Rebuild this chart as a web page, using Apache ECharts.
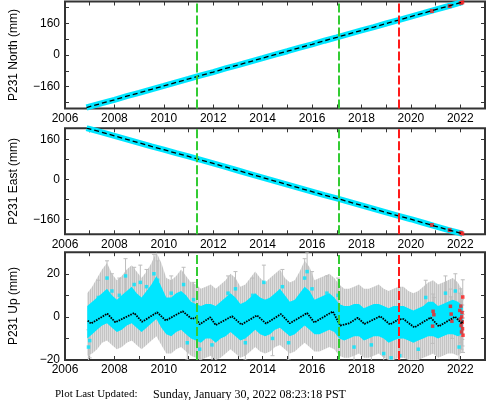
<!DOCTYPE html>
<html><head><meta charset="utf-8">
<script src="https://cdn.jsdelivr.net/npm/echarts@6/dist/echarts.min.js"></script>
<style>html,body{margin:0;padding:0;background:#fff}#c{width:488px;height:400px}</style>
</head><body><div id="c"></div>
<script>
// ---------- data ----------
const northT = [2006.87,2007.5,2008,2008.5,2009,2009.5,2010,2010.5,2011,2011.5,2012,2012.5,2013,2013.5,2014,2014.5,2015,2015.5,2016,2016.5,2017,2017.5,2018,2018.5,2019,2019.5,2020,2020.5,2021,2021.5,2022,2022.1];
const northV = [-265,-243,-226,-208,-191,-173,-156,-138,-121,-103,-86,-68,-51,-33,-16,2,19,37,54,72,89,107,124,141,159,176,194,211,229,246,264,267];
const eastT = northT;
const eastV = [205,188,174,160,146,132,119,105,92,78,64,50,36,22,8,-6,-20,-34,-48,-62,-75,-89,-103,-117,-131,-145,-158,-172,-186,-200,-213,-216];
const redNorthT = [2020.85,2021.57,2022.02,2022.08];
const redNorthV = [222,247,263,266];
const redEastT = [2020.85,2021.57,2022.02,2022.08];
const redEastV = [-181,-201,-212,-215];

const upModelT = [2006.92,2007.05,2007.71,2008.04,2008.8,2009.12,2009.73,2010.08,2010.76,2011.14,2011.3,2011.45,2011.88,2012.1,2012.76,2013.14,2013.77,2014.14,2014.74,2015.1,2015.8,2016.09,2016.84,2017.14,2017.5,2017.85,2018.12,2018.76,2019.15,2019.5,2019.7,2020.14,2020.8,2021.13,2021.79,2022.06,2022.1];
const upModelV = [-1.7,-3.1,1.5,-2.5,1.8,-2.3,2.1,-1.7,2.6,-1.0,-0.3,-3.5,-0.2,-3.8,0.3,-3.6,0.7,-3.1,1.3,-3.0,1.8,-2.6,2.5,-4.0,-3.0,-0.4,-3.3,0.3,-3.5,-1.2,-1.0,-4.9,-0.3,-4.4,0.1,-3.2,-1.5];

const upBinT = [2006.9,2007.1,2007.3,2007.5,2007.7,2007.9,2008.1,2008.3,2008.5,2008.7,2008.9,2009.1,2009.3,2009.5,2009.7,2009.9,2010.1,2010.3,2010.5,2010.7,2010.9,2011.1,2011.3,2011.5,2011.7,2011.9,2012.1,2012.3,2012.5,2012.7,2012.9,2013.1,2013.3,2013.5,2013.7,2013.9,2014.1,2014.3,2014.5,2014.7,2014.9,2015.1,2015.3,2015.5,2015.7,2015.9,2016.1,2016.3,2016.5,2016.7,2016.9,2017.1,2017.3,2017.5,2017.7,2017.9,2018.1,2018.3,2018.5,2018.7,2018.9,2019.1,2019.3,2019.5,2019.7,2019.9,2020.1,2020.3,2020.5,2020.7,2020.9,2021.1,2021.3,2021.5,2021.7,2021.9,2022.1];
const upCoreHi = [5,7,9,11,13,10,8,10,12,14,11,9,12,15,19,14,9,9,11,12,10,7,6,5,6,6,5,7,9,11,9,6,7,9,11,9,8,9,11,13,10,7,8,11,14,12,8,9,10,11,9,6,5,5,6,6,4,5,6,6,5,4,5,5,5,4,3,4,5,7,7,5,6,7,8,7,5];
const upCoreLo = [-10,-8,-6,-4,-3,-5,-7,-6,-4,-3,-5,-7,-5,-3,-1,-5,-8,-9,-7,-6,-8,-10,-11,-12,-10,-10,-12,-10,-9,-7,-9,-11,-10,-8,-6,-8,-9,-8,-6,-5,-7,-9,-8,-6,-4,-6,-8,-8,-7,-6,-7,-10,-11,-10,-9,-9,-11,-10,-9,-9,-10,-12,-11,-10,-10,-11,-12,-11,-10,-9,-9,-10,-9,-8,-8,-9,-8];
const upErrHi = [11,14,18,22,25,20,17,19,22,24,21,18,21,25,30,25,18,17,19,22,19,16,15,13,14,15,13,15,17,20,18,14,15,18,21,18,16,18,20,22,18,16,17,21,26,23,17,18,19,20,18,15,13,13,14,15,13,13,14,15,13,12,13,14,14,12,11,12,14,16,17,15,16,17,18,16,12];
const upErrLo = [-18,-17,-15,-12,-11,-13,-15,-14,-12,-11,-13,-15,-13,-11,-9,-13,-17,-17,-15,-14,-16,-18,-19,-20,-19,-18,-20,-19,-17,-15,-17,-19,-18,-16,-14,-16,-17,-16,-14,-13,-15,-17,-16,-14,-12,-14,-16,-16,-15,-14,-15,-18,-19,-19,-18,-17,-19,-19,-18,-17,-19,-20,-20,-19,-19,-20,-20,-20,-19,-18,-17,-19,-18,-17,-17,-18,-16];

const upOutT = [2006.95,2007.0,2007.35,2007.7,2007.9,2008.2,2008.45,2008.8,2009.05,2009.3,2009.6,2009.75,2010.3,2010.8,2010.95,2011.2,2011.45,2011.95,2012.6,2012.9,2013.3,2013.6,2014.05,2014.4,2014.8,2015.05,2015.7,2015.8,2016.0,2016.6,2017.05,2017.7,2018.4,2018.9,2019.2,2019.55,2020.3,2020.6,2021.4,2021.8,2021.95];
const upOutV = [-14,-11,9,18,12,10,19,15,16,14,20,17,11,15,-12,8,-15,-13,11,13,-12,10,16,-10,14,-12,18,21,13,11,10,-14,-13,-17,-19,-18,-15,9,11,12,-14];
const upOutErr = [8,8,8,8,8,8,8,8,8,8,9,9,8,8,8,8,8,8,8,8,8,8,8,8,8,8,9,9,8,8,8,8,8,8,8,8,8,8,8,8,8];
const redUpT = [2020.88,2020.9,2020.93,2021.6,2021.63,2021.66,2021.98,2022.0,2022.02,2022.03,2022.05,2022.06,2022.07,2022.08,2022.09,2022.1,2022.11];
const redUpV = [-4.3,2.6,1.0,4.9,1.3,-2.0,3.0,-1.0,5.0,-4.0,-7.0,0.0,2.0,-2.5,-5.5,9.2,-8.5];

const greenYears = [2011.33, 2017.09];
const redYears = [2019.49];
const northTicks = [-240,-160,-80,0,80,160,240];
const eastTicks = [-160,-80,0,80,160];
const neLabels = [-160,0,160];

// ---------- styles ----------
const FONT = 'Liberation Sans';
const CYAN = '#00e6ff';
const GREEN = '#33cc33';
const RED = '#ff1a1a';
const FRAME = '#333';

// texture for the error-bar cloud
const pat = document.createElement('canvas');
pat.width = 2; pat.height = 4;
(function(){
  const c = pat.getContext('2d');
  c.fillStyle = '#dcdcdc'; c.fillRect(0, 0, 2, 4);
  c.fillStyle = '#c4c4c4'; c.fillRect(0, 0, 1, 4);
})();

const grids = [
  {left:55, width:430, top:1.5, height:107},
  {left:55, width:430, top:128.3, height:106},
  {left:55, width:430, top:252.2, height:107.8}
].map(g => Object.assign(g, {show:true, borderColor:FRAME, borderWidth:2, backgroundColor:'transparent'}));

const minus = v => String(v).replace('-', '\u2212');

function xAxes(gi) {
  const base = {
    gridIndex: gi, type:'value', min:2006, max:2023, interval:1,
    axisLine:{show:false, onZero:false}, splitLine:{show:false},
    axisTick:{show:true, inside:true, length:4, lineStyle:{color:FRAME, width:1}}
  };
  return [
    Object.assign({}, base, {position:'bottom', axisLabel:{show:true, margin:4, fontSize:12, fontFamily:FONT, color:'#000',
      formatter: v => (v % 2 === 0 && v <= 2022) ? String(v) : ''}}),
    Object.assign({}, base, {position:'top', axisLabel:{show:false}})
  ];
}
function yAxes(gi, min, max, ticks, labels, name, interval) {
  const tickCfg = {show:true, inside:true, length:4, lineStyle:{color:FRAME, width:1}};
  const left = {
    gridIndex:gi, type:'value', min:min, max:max, position:'left',
    axisLine:{show:false, onZero:false}, splitLine:{show:false},
    name:name, nameLocation:'middle', nameGap:45,
    nameTextStyle:{fontSize:12, fontFamily:FONT, color:'#000'},
    axisTick: Object.assign({}, tickCfg),
    axisLabel:{show:true, margin:5, fontSize:12, fontFamily:FONT, color:'#000', formatter: v => minus(v)}
  };
  const right = {
    gridIndex:gi, type:'value', min:min, max:max, position:'right',
    axisLine:{show:false, onZero:false}, splitLine:{show:false},
    axisTick: Object.assign({}, tickCfg), axisLabel:{show:false}
  };
  if (interval) {
    left.interval = interval; right.interval = interval;
    left.axisLabel.formatter = v => (v % 20 === 0 && v < max) ? minus(v) : '';
  } else {
    left.axisTick.customValues = ticks; right.axisTick.customValues = ticks;
    left.axisLabel.customValues = labels;
    right.axisLabel.customValues = labels;
  }
  return [left, right];
}

const xAxis = [].concat(xAxes(0), xAxes(1), xAxes(2));
const yAxis = [].concat(
  yAxes(0, -270, 270, northTicks, neLabels, 'P231 North (mm)'),
  yAxes(1, -218, 204, eastTicks, neLabels, 'P231 East (mm)'),
  yAxes(2, -20, 30, null, null, 'P231 Up (mm)', 10)
);

const markLines = {
  symbol:'none', silent:true, label:{show:false},
  lineStyle:{type:[9,3], width:2},
  data: greenYears.map(y => ({xAxis:y, lineStyle:{color:GREEN, type:[9,3], width:2}}))
    .concat(redYears.map(y => ({xAxis:y, lineStyle:{color:RED, type:[9,3], width:2}})))
};

const zip = (a, b) => a.map((v, i) => [v, b[i]]);

function trendSeries(ax, T, V, rT, rV) {
  return [
    {type:'line', xAxisIndex:ax, yAxisIndex:ax, data:zip(T, V), showSymbol:false, silent:true,
      lineStyle:{color:CYAN, width:6}, z:2},
    {type:'scatter', xAxisIndex:ax, yAxisIndex:ax, data:zip(rT, rV), symbol:'rect', symbolSize:4,
      itemStyle:{color:RED}, silent:true, z:3},
    {type:'line', xAxisIndex:ax, yAxisIndex:ax, data:zip(T, V), showSymbol:false, silent:true,
      lineStyle:{color:'#000', width:1.3, type:[5,3]}, z:4, markLine:markLines}
  ];
}

function bandRender(T, hi, lo, fill) {
  return function(params, api) {
    const pts = [];
    for (let i = 0; i < T.length; i++) pts.push(api.coord([T[i], hi[i]]));
    for (let i = T.length - 1; i >= 0; i--) pts.push(api.coord([T[i], lo[i]]));
    return {type:'polygon', shape:{points:pts}, style:{fill:fill}};
  };
}
function errRender(T, V, E) {
  return function(params, api) {
    const i = params.dataIndex;
    const a = api.coord([T[i], V[i] + E[i]]);
    const b = api.coord([T[i], V[i] - E[i]]);
    const st = {stroke:'#bdbdbd', lineWidth:1};
    return {type:'group', children:[
      {type:'line', shape:{x1:a[0], y1:a[1], x2:b[0], y2:b[1]}, style:st},
      {type:'line', shape:{x1:a[0]-2, y1:a[1], x2:a[0]+2, y2:a[1]}, style:st},
      {type:'line', shape:{x1:b[0]-2, y1:b[1], x2:b[0]+2, y2:b[1]}, style:st}
    ]};
  };
}
const redErr = redUpT.map(() => 8);

const series = [].concat(
  trendSeries(0, northT, northV, redNorthT, redNorthV),
  trendSeries(2, eastT, eastV, redEastT, redEastV),
  [
    {type:'custom', xAxisIndex:4, yAxisIndex:4, data:[[upBinT[0], upErrLo[0]]], silent:true, z:1,
      renderItem: bandRender(upBinT, upErrHi, upErrLo, {type:'pattern', image:pat, repeat:'repeat'}), clip:true},
    {type:'custom', xAxisIndex:4, yAxisIndex:4, data:zip(upOutT, upOutV), silent:true, z:1,
      renderItem: errRender(upOutT, upOutV, upOutErr), clip:true},
    {type:'custom', xAxisIndex:4, yAxisIndex:4, data:zip(redUpT, redUpV), silent:true, z:1,
      renderItem: errRender(redUpT, redUpV, redErr), clip:true},
    {type:'custom', xAxisIndex:4, yAxisIndex:4, data:[[upBinT[0], upCoreLo[0]]], silent:true, z:2,
      renderItem: bandRender(upBinT, upCoreHi, upCoreLo, CYAN), clip:true},
    {type:'scatter', xAxisIndex:4, yAxisIndex:4, data:zip(upOutT, upOutV), symbol:'rect', symbolSize:3.5,
      itemStyle:{color:CYAN}, silent:true, z:3},
    {type:'scatter', xAxisIndex:4, yAxisIndex:4, data:zip(redUpT, redUpV), symbol:'rect', symbolSize:3.5,
      itemStyle:{color:RED}, silent:true, z:3},
    {type:'line', xAxisIndex:4, yAxisIndex:4, data:zip(upModelT, upModelV), showSymbol:false, silent:true,
      lineStyle:{color:'#000', width:1.8, type:[1.6,1]}, z:4, markLine:markLines}
  ]
);

const chart = echarts.init(document.getElementById('c'), null, {renderer:'canvas'});
chart.setOption({
  animation:false,
  backgroundColor:'#fff',
  grid: grids,
  xAxis: xAxis,
  yAxis: yAxis,
  series: series,
  graphic: [
    {type:'text', left:55, top:389,
      style:{text:'Plot Last Updated:', font:'11px "Liberation Serif"', fill:'#000'}},
    {type:'text', left:153, top:388.5,
      style:{text:'Sunday, January 30, 2022 08:23:18 PST', font:'12px "Liberation Serif"', fill:'#000'}}
  ]
});
</script>
</body></html>
